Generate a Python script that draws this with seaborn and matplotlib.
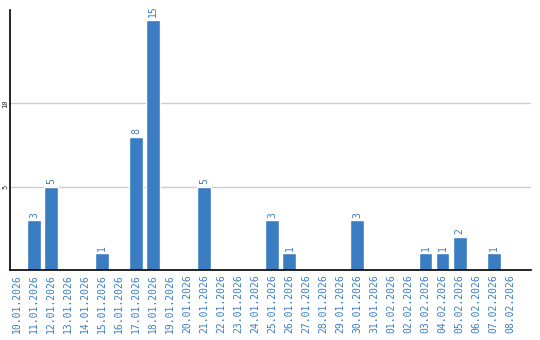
import matplotlib
matplotlib.use("Agg")
import matplotlib.pyplot as plt
import seaborn as sns
import pandas as pd

dates = ["10.01.2026", "11.01.2026", "12.01.2026", "13.01.2026", "14.01.2026",
         "15.01.2026", "16.01.2026", "17.01.2026", "18.01.2026", "19.01.2026",
         "20.01.2026", "21.01.2026", "22.01.2026", "23.01.2026", "24.01.2026",
         "25.01.2026", "26.01.2026", "27.01.2026", "28.01.2026", "29.01.2026",
         "30.01.2026", "31.01.2026", "01.02.2026", "02.02.2026", "03.02.2026",
         "04.02.2026", "05.02.2026", "06.02.2026", "07.02.2026", "08.02.2026"]
counts = [0, 3, 5, 0, 0, 1, 0, 8, 15, 0,
          0, 5, 0, 0, 0, 3, 1, 0, 0, 0,
          3, 0, 0, 0, 1, 1, 2, 0, 1, 0]
yticks = [5, 10]

BLUE = "#3a7dc2"
df = pd.DataFrame({"date": dates, "count": counts})

sns.set_style("white")
plt.rcParams['font.family'] = ['DejaVu Sans Mono', 'DejaVu Sans']

fig = plt.figure(figsize=(5.4, 3.4), dpi=100)
ax = fig.add_axes([10/540, 1 - 270/340, 521/540, 260/340])

sns.barplot(data=df, x="date", y="count", color=BLUE, saturation=1, width=0.82, ax=ax)

for p, v in zip(ax.patches, counts):
    if v > 0:
        ax.text(p.get_x() + p.get_width()/2, v + 0.15, str(v), rotation=90,
                ha="center", va="bottom", color=BLUE, fontsize=7)

ax.set_xlim(-0.42, 30.2)
ax.set_ylim(0, 15.6)
ax.set_yticks(yticks)
ax.set_yticklabels([str(t) for t in yticks], rotation=90, va="center", fontsize=5)
ax.yaxis.grid(True, color="#cccccc", linewidth=1)
ax.set_axisbelow(True)
ax.tick_params(axis="y", length=0, pad=1)
ax.tick_params(axis="x", length=0, pad=3, labelrotation=90, labelsize=7, labelcolor=BLUE)
ax.set_xlabel("")
ax.set_ylabel("")
for s in ["top", "right"]:
    ax.spines[s].set_visible(False)
for s in ["left", "bottom"]:
    ax.spines[s].set_color("black")
    ax.spines[s].set_linewidth(1.2)

fig.savefig("out.png", dpi=100)
